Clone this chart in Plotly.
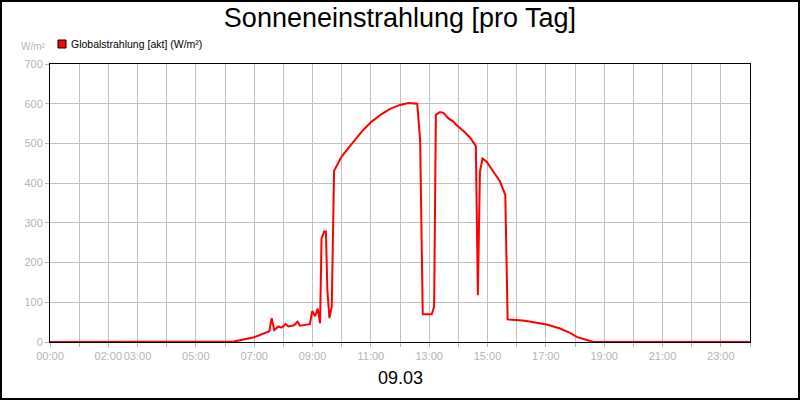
import plotly.graph_objects as go

# Tagesverlauf Globalstrahlung (Stunden als Dezimalzahl, W/m²)
hours = [0, 6.0, 6.3, 7.0, 7.52, 7.6, 7.69, 7.83, 7.94, 8.08, 8.17, 8.37, 8.49, 8.57,
         8.91, 8.99, 9.09, 9.18, 9.26, 9.31, 9.40, 9.46, 9.51, 9.58, 9.66, 9.74,
         10.0, 10.4, 10.74, 11.03, 11.37, 11.66, 12.0, 12.29, 12.59, 12.69, 12.78,
         13.09, 13.17, 13.23, 13.37, 13.49, 13.66, 13.83, 13.94, 14.17, 14.4, 14.6,
         14.67, 14.74, 14.83, 14.97, 15.2, 15.43, 15.61, 15.69, 16.11, 16.34, 17.03,
         17.49, 17.83, 18.06, 18.4, 18.63, 24.0]
globalstrahlung = [0, 0, 1, 12, 27, 60, 30, 39, 36, 45, 39, 42, 51, 41,
                   45, 78, 65, 84, 47, 261, 278, 278, 131, 60, 89, 431,
                   467, 504, 534, 555, 574, 587, 597, 602, 600, 509, 70,
                   70, 89, 572, 579, 577, 563, 555, 546, 532, 515, 494,
                   118, 429, 462, 454, 429, 404, 370, 57, 55, 53, 44,
                   34, 23, 13, 5, 0, 0]

tick_hours = list(range(25))
tick_labels = ["00:00", "", "02:00", "03:00", "", "05:00", "", "07:00", "", "09:00",
               "", "11:00", "", "13:00", "", "15:00", "", "17:00", "", "19:00",
               "", "21:00", "", "23:00", ""]

# Pixel -> Paper Umrechnung (Plotbereich 50..750 x 64..342)
def px(x):
    return (x - 50) / 700

def py(y):
    return (342 - y) / 278

grey = "#b4b4b4"
font = "Liberation Sans, Arial, sans-serif"

fig = go.Figure(go.Scatter(
    x=hours, y=globalstrahlung, mode="lines",
    line=dict(color="#ff0000", width=2),
    showlegend=False,
))

fig.update_layout(
    width=800, height=400,
    margin=dict(l=50, r=50, t=64, b=58),
    paper_bgcolor="white", plot_bgcolor="white",
    font=dict(family=font, size=11, color=grey),
    title=dict(text="Sonneneinstrahlung [pro Tag]", x=0.5, xanchor="center",
               y=1 - 18 / 400, yanchor="middle",
               font=dict(family=font, size=27, color="black")),
    xaxis=dict(range=[0, 24], tickvals=tick_hours, ticktext=tick_labels,
               tickangle=0, automargin=False,
               showgrid=True, gridcolor="#c0c0c0", gridwidth=1,
               ticks="outside", ticklen=4, tickcolor=grey,
               showline=True, linecolor="black", linewidth=1, mirror=True,
               zeroline=False, tickfont=dict(color=grey, size=11)),
    yaxis=dict(range=[0, 700], dtick=100, automargin=False,
               showgrid=True, gridcolor="#c0c0c0", gridwidth=1,
               ticks="outside", ticklen=4, tickcolor=grey,
               showline=True, linecolor="black", linewidth=1, mirror=True,
               zeroline=False, tickfont=dict(color=grey, size=11)),
    shapes=[
        dict(type="rect", xref="paper", yref="paper",
             x0=px(1), x1=px(799), y0=py(399), y1=py(1),
             line=dict(color="black", width=2)),
        dict(type="rect", xref="paper", yref="paper",
             x0=px(58), x1=px(66), y0=py(48), y1=py(40),
             fillcolor="#ff0000", line=dict(color="black", width=1)),
    ],
    annotations=[
        dict(text="Globalstrahlung [akt] (W/m²)", xref="paper", yref="paper",
             x=px(69), y=py(44), xanchor="left", yanchor="middle", showarrow=False,
             font=dict(family=font, size=10.5, color="black")),
        dict(text="W/m²", xref="paper", yref="paper",
             x=px(48), y=py(47), xanchor="right", yanchor="middle", showarrow=False,
             font=dict(family=font, size=10, color=grey)),
        dict(text="09.03", xref="paper", yref="paper",
             x=0.5, y=py(378), xanchor="center", yanchor="middle", showarrow=False,
             font=dict(family=font, size=18, color="black")),
    ],
)

# Seitenrand entfernen, damit das Bild genau 800x400 ausfuellt
fig.write_html("out.html", config={"displayModeBar": False},
               post_script="document.body.style.margin='0';")
